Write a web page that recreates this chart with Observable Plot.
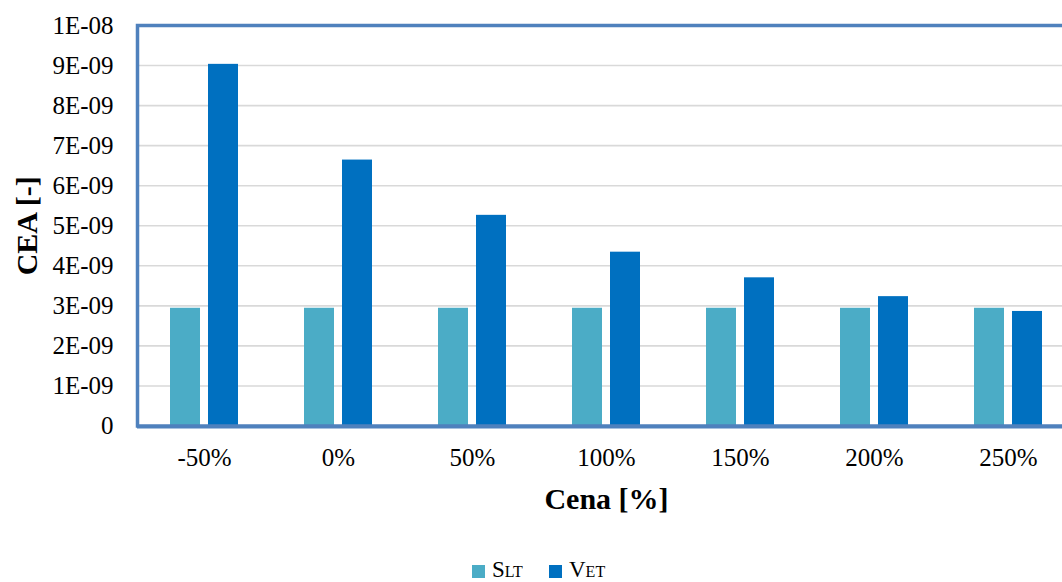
<!DOCTYPE html>
<html>
<head>
<meta charset="utf-8">
<script src="https://cdn.jsdelivr.net/npm/d3@7"></script>
<script src="https://cdn.jsdelivr.net/npm/@observablehq/plot@0.6"></script>
<style>
  html, body { margin: 0; padding: 0; overflow: hidden; background: #fff; }
  #chart svg { display: block; max-width: none !important; }
  .legend {
    position: absolute; top: 558px; left: 472px;
    display: flex; align-items: center;
    font-family: "Liberation Serif", "Times New Roman", serif;
    font-size: 23px; line-height: 1; font-variant: small-caps; color: #000;
  }
  .legend .sw { width: 13px; height: 13px; display: inline-block; margin-right: 7px; position: relative; top: 2px; }
  .legend .item { display: flex; align-items: center; min-width: 77px; }
</style>
</head>
<body>
<div id="chart"></div>
<script>
// Price change scenarios on the x axis
const categories = ["-50%", "0%", "50%", "100%", "150%", "200%", "250%"];
// Series names (shown in small caps)
const seriesNames = ["Slt", "Vet"];
const seriesColors = ["#4bacc6", "#0070c0"];
// CEA values per scenario
const sltValues = [2.94e-9, 2.94e-9, 2.94e-9, 2.94e-9, 2.94e-9, 2.94e-9, 2.94e-9];
const vetValues = [9.03e-9, 6.64e-9, 5.26e-9, 4.34e-9, 3.70e-9, 3.23e-9, 2.86e-9];
// Y axis ticks and their labels
const yTicks = [0, 1e-9, 2e-9, 3e-9, 4e-9, 5e-9, 6e-9, 7e-9, 8e-9, 9e-9, 1e-8];
const yTickLabels = ["0", "1E-09", "2E-09", "3E-09", "4E-09", "5E-09", "6E-09", "7E-09", "8E-09", "9E-09", "1E-08"];

const sltRows = categories.map((c, i) => ({cat: c, value: sltValues[i]}));
const vetRows = categories.map((c, i) => ({cat: c, value: vetValues[i]}));

const W = 1075, H = 550;
const chart = Plot.plot({
  width: W,
  height: H,
  marginLeft: 137,
  marginRight: 0,
  marginTop: 25,
  marginBottom: H - 425.5,
  x: {domain: categories, padding: 0, label: null},
  y: {domain: [0, 1e-8], label: null},
  style: {
    fontFamily: "'Liberation Serif', 'Times New Roman', serif",
    fontSize: "25px",
    color: "#000",
    background: "#fff",
    overflow: "visible"
  },
  marks: [
    Plot.ruleY(yTicks.slice(1, -1), {stroke: "#d9d9d9", strokeWidth: 1.6}),
    Plot.barY(sltRows, {x: "cat", y: "value", fill: seriesColors[0], insetLeft: 33, insetRight: 71}),
    Plot.barY(vetRows, {x: "cat", y: "value", fill: seriesColors[1], insetLeft: 71, insetRight: 33}),
    Plot.frame({stroke: "#4f81bd", strokeWidth: 3.5}),
    Plot.ruleY([0], {stroke: "#4f81bd", strokeWidth: 2, dy: 1.5}),
    Plot.axisY({
      ticks: yTicks,
      tickFormat: d => yTickLabels[yTicks.indexOf(d)],
      tickSize: 0, tickPadding: 24, fontSize: 25, label: null
    }),
    Plot.axisX({tickSize: 0, tickPadding: 22, fontSize: 25, label: null}),
    Plot.text(["CEA [-]"], {
      text: d => d, frameAnchor: "left", dx: -110, rotate: -90,
      textAnchor: "middle", lineAnchor: "middle",
      fontWeight: "bold", fontSize: 30, fill: "#000"
    }),
    Plot.text(["Cena [%]"], {
      text: d => d, frameAnchor: "bottom", dy: 73,
      textAnchor: "middle", lineAnchor: "middle",
      fontWeight: "bold", fontSize: 30, fill: "#000"
    })
  ]
});
document.getElementById("chart").append(chart);

// Legend below the chart
const legend = document.createElement("div");
legend.className = "legend";
seriesNames.forEach((name, i) => {
  const item = document.createElement("span");
  item.className = "item";
  const sw = document.createElement("span");
  sw.className = "sw";
  sw.style.background = seriesColors[i];
  const label = document.createElement("span");
  label.textContent = name;
  item.append(sw, label);
  legend.append(item);
});
document.body.append(legend);
</script>
</body>
</html>
